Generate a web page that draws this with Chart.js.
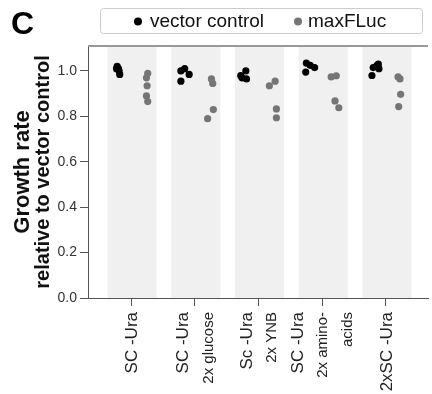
<!DOCTYPE html>
<html>
<head>
<meta charset="utf-8">
<script src="https://cdn.jsdelivr.net/npm/chart.js@4"></script>
<style>
  html, body { margin: 0; padding: 0; background: #fff; }
  canvas { display: block; }
</style>
</head>
<body>
<canvas id="growthChart" width="432" height="394"></canvas>
<script>
const FONT = '"Liberation Sans", Arial, Helvetica, sans-serif';

// media conditions along the x axis, each label split into lines
const groupLabels = [
  ['SC -Ura'],
  ['SC -Ura', '2x glucose'],
  ['Sc -Ura', '2x YNB'],
  ['SC -Ura', '2x amino-', 'acids'],
  ['2xSC -Ura']
];
const yTicks = [0, 0.2, 0.4, 0.6, 0.8, 1.0];

// growth rate relative to vector control, one list per condition
const vectorControl = [
  [1.02, 1.01, 1.01, 1.00, 0.985],
  [1.00, 1.01, 0.985, 0.955],
  [1.00, 0.98, 0.965, 0.97],
  [1.035, 1.025, 1.015, 0.995],
  [1.015, 1.025, 1.01, 1.03, 0.98]
];
const vectorJitter = [
  [-0.22, -0.2, -0.23, -0.19, -0.18],
  [-0.22, -0.16, -0.09, -0.22],
  [-0.2, -0.28, -0.19, -0.26],
  [-0.25, -0.19, -0.12, -0.26],
  [-0.2, -0.14, -0.11, -0.12, -0.22]
];
const maxFLuc = [
  [0.99, 0.97, 0.935, 0.89, 0.865],
  [0.965, 0.945, 0.83, 0.79],
  [0.955, 0.935, 0.833, 0.794],
  [0.974, 0.979, 0.868, 0.838],
  [0.974, 0.965, 0.897, 0.843]
];
const maxJitter = [
  [0.26, 0.24, 0.25, 0.24, 0.26],
  [0.26, 0.28, 0.29, 0.2],
  [0.26, 0.17, 0.28, 0.28],
  [0.14, 0.22, 0.2, 0.26],
  [0.19, 0.22, 0.23, 0.2]
];

function toPoints(vals, jitter) {
  const pts = [];
  vals.forEach((group, i) => {
    group.forEach((v, j) => pts.push({ x: i + 1 + jitter[i][j], y: v }));
  });
  return pts;
}

const bandsPlugin = {
  id: 'bands',
  beforeDraw(chart) {
    const ctx = chart.ctx, xs = chart.scales.x, area = chart.chartArea;
    ctx.save();
    ctx.fillStyle = '#f0f0f0';
    groupLabels.forEach((_, i) => {
      const x0 = xs.getPixelForValue(i + 1 - 0.37);
      const x1 = xs.getPixelForValue(i + 1 + 0.40);
      ctx.fillRect(x0, area.top, x1 - x0, area.bottom - area.top);
    });
    ctx.restore();
  }
};

const decorPlugin = {
  id: 'decor',
  afterDraw(chart) {
    const ctx = chart.ctx, xs = chart.scales.x, area = chart.chartArea;
    ctx.save();

    // top frame line
    ctx.strokeStyle = '#999';
    ctx.lineWidth = 2;
    ctx.beginPath();
    ctx.moveTo(area.left, area.top);
    ctx.lineTo(area.right, area.top);
    ctx.stroke();

    // x labels, rotated
    ctx.fillStyle = '#222';
    ctx.textAlign = 'right';
    ctx.textBaseline = 'middle';
    groupLabels.forEach((lines, i) => {
      const xc = xs.getPixelForValue(i + 1);
      lines.forEach((line, k) => {
        const off = (k - (lines.length - 1) / 2) * 25 + 1;
        ctx.save();
        ctx.translate(xc + off, 312);
        ctx.rotate(-Math.PI / 2);
        ctx.font = (k === 0 ? '17px ' : '15px ') + FONT;
        ctx.fillText(line, 0, 0);
        ctx.restore();
      });
    });

    // y title
    ctx.textAlign = 'center';
    ctx.fillStyle = '#111';
    [['Growth rate', 23, 22], ['relative to vector control', 43, 20]].forEach(([t, x, size]) => {
      ctx.save();
      ctx.font = 'bold ' + size + 'px ' + FONT;
      ctx.translate(x, (area.top + area.bottom) / 2);
      ctx.rotate(-Math.PI / 2);
      ctx.fillText(t, 0, 0);
      ctx.restore();
    });

    // panel letter
    ctx.font = 'bold 32px ' + FONT;
    ctx.textAlign = 'left';
    ctx.textBaseline = 'alphabetic';
    ctx.fillStyle = '#000';
    ctx.fillText('C', 11, 34);

    // legend box
    ctx.fillStyle = '#fff';
    ctx.strokeStyle = '#ccc';
    ctx.lineWidth = 1;
    ctx.beginPath();
    ctx.roundRect(100.5, 8.5, 322, 25, 3);
    ctx.fill();
    ctx.stroke();
    const items = [
      { label: chart.data.datasets[0].label, color: chart.data.datasets[0].backgroundColor, dot: 138, text: 150 },
      { label: chart.data.datasets[1].label, color: chart.data.datasets[1].backgroundColor, dot: 298, text: 308 }
    ];
    ctx.font = '19px ' + FONT;
    ctx.textBaseline = 'middle';
    items.forEach(it => {
      ctx.fillStyle = it.color;
      ctx.beginPath();
      ctx.arc(it.dot, 21.5, 4, 0, Math.PI * 2);
      ctx.fill();
      ctx.fillStyle = '#111';
      ctx.fillText(it.label, it.text, 21.5);
    });

    ctx.restore();
  }
};

new Chart(document.getElementById('growthChart'), {
  type: 'scatter',
  data: {
    datasets: [{
      label: 'vector control',
      data: toPoints(vectorControl, vectorJitter),
      backgroundColor: '#000',
      borderColor: '#000',
      borderWidth: 0,
      pointRadius: 3.6
    }, {
      label: 'maxFLuc',
      data: toPoints(maxFLuc, maxJitter),
      backgroundColor: '#757575',
      borderColor: '#757575',
      borderWidth: 0,
      pointRadius: 3.6
    }]
  },
  options: {
    responsive: false,
    animation: false,
    devicePixelRatio: 1,
    layout: { padding: { top: 46, left: 0, right: 0, bottom: 0 } },
    plugins: { legend: { display: false }, tooltip: { enabled: false } },
    scales: {
      x: {
        type: 'linear',
        min: 0.322,
        max: 5.66,
        afterBuildTicks: s => { s.ticks = groupLabels.map((_, i) => ({ value: i + 1 })); },
        afterFit: s => { s.height = 96; },
        ticks: { display: false },
        grid: { drawOnChartArea: false, drawTicks: true, tickLength: 8, color: '#555' },
        border: { color: '#555', width: 1 }
      },
      y: {
        min: 0,
        max: 1.11,
        afterBuildTicks: s => { s.ticks = yTicks.map(v => ({ value: v })); },
        afterFit: s => { s.width = 88; },
        ticks: {
          callback: v => v.toFixed(1),
          font: { family: FONT, size: 14 },
          color: '#333',
          padding: 3
        },
        grid: { drawOnChartArea: false, drawTicks: true, tickLength: 8, color: '#555' },
        border: { color: '#555', width: 1 }
      }
    }
  },
  plugins: [bandsPlugin, decorPlugin]
});
</script>
</body>
</html>
